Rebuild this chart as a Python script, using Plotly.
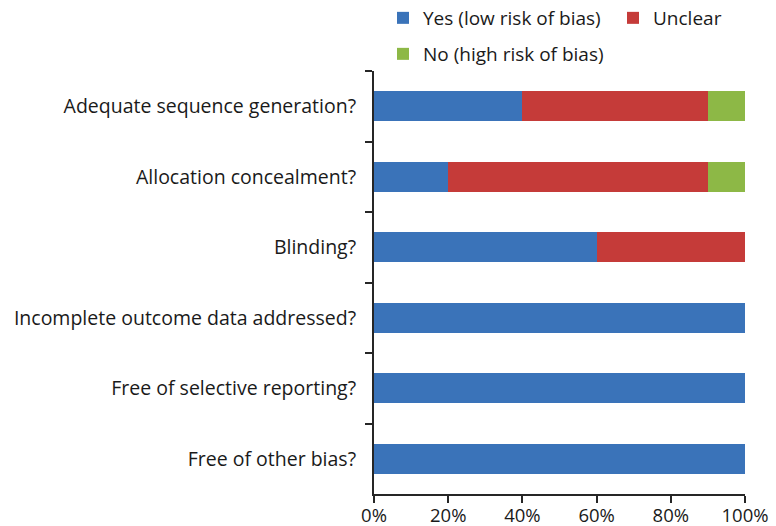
import plotly.graph_objects as go

# Risk-of-bias domains, listed top to bottom
domains = [
    "Adequate sequence generation?",
    "Allocation concealment?",
    "Blinding?",
    "Incomplete outcome data addressed?",
    "Free of selective reporting?",
    "Free of other bias?",
]

# Percentage of studies per judgement
yes_low = [40, 20, 60, 100, 100, 100]
unclear = [50, 70, 40, 0, 0, 0]
no_high = [10, 10, 0, 0, 0, 0]

tick_vals = [0, 20, 40, 60, 80, 100]
tick_text = ["0%", "20%", "40%", "60%", "80%", "100%"]

series = [
    ("Yes (low risk of bias)", yes_low, "#3A73B9", "legend"),
    ("Unclear", unclear, "#C53B39", "legend2"),
    ("No (high risk of bias)", no_high, "#8DB846", "legend3"),
]

font_family = "Open Sans, Noto Sans, sans-serif"
W, H = 776, 526

fig = go.Figure()
for name, vals, color, leg in series:
    fig.add_trace(go.Bar(
        y=domains,
        x=vals,
        name=name,
        orientation="h",
        legend=leg,
        showlegend=True,
        marker=dict(color=color, line=dict(width=0)),
    ))


def legend_box(x_px, y_px):
    return dict(
        visible=True,
        orientation="h",
        xref="container",
        yref="container",
        x=x_px / W,
        xanchor="left",
        y=1 - y_px / H,
        yanchor="middle",
        font=dict(size=19),
        itemwidth=30,
        bgcolor="rgba(0,0,0,0)",
    )


fig.update_layout(
    showlegend=True,
    barmode="stack",
    bargap=0.575,
    width=W,
    height=H,
    margin=dict(l=374, r=31, t=71, b=32, autoexpand=False),
    paper_bgcolor="white",
    plot_bgcolor="white",
    font=dict(family=font_family, size=19.5, color="#1a1a1a"),
    legend=legend_box(383, 18),
    legend2=legend_box(613, 18),
    legend3=legend_box(383, 54),
    xaxis=dict(
        range=[0, 100],
        tickvals=tick_vals,
        ticktext=tick_text,
        showgrid=False,
        zeroline=False,
        showline=True,
        linecolor="#262626",
        linewidth=2,
        ticks="outside",
        ticklen=7,
        tickwidth=2,
        tickcolor="#262626",
        tickfont=dict(size=18.5),
        ticklabelstandoff=-3,
    ),
    yaxis=dict(
        categoryorder="array",
        categoryarray=domains,
        autorange="reversed",
        showgrid=False,
        showline=True,
        linecolor="#262626",
        linewidth=2,
        ticks="outside",
        tickson="boundaries",
        ticklen=7,
        tickwidth=2,
        tickcolor="#262626",
        ticklabelstandoff=12,
    ),
)

fig.write_html("out.html")
